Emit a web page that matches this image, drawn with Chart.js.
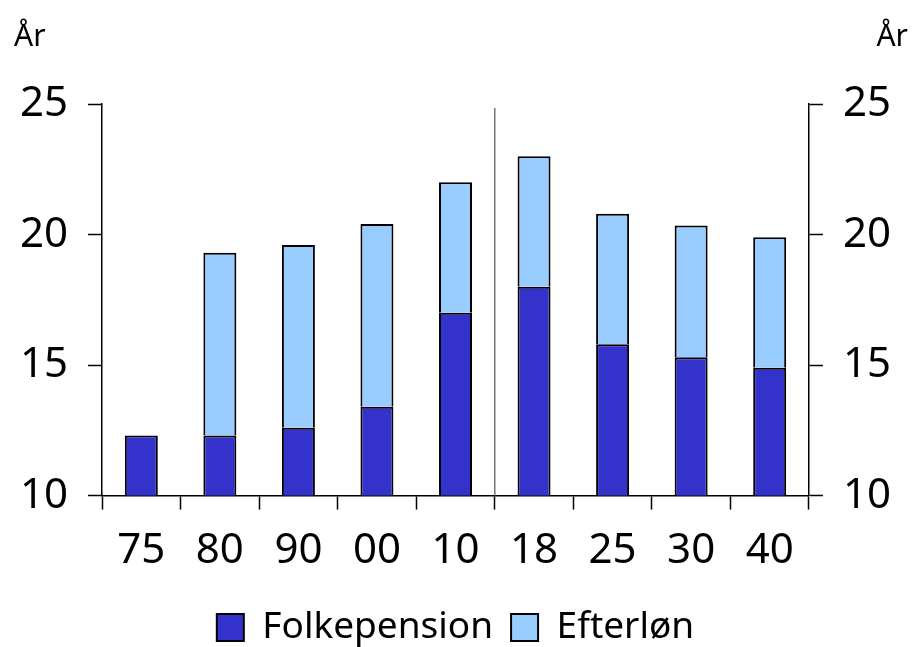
<!DOCTYPE html>
<html>
<head>
<meta charset="utf-8">
<script src="https://cdn.jsdelivr.net/npm/chart.js@4/dist/chart.umd.min.js"></script>
<style>
  html, body { margin: 0; padding: 0; background: #fff; }
  #wrap { width: 916px; height: 647px; }
</style>
</head>
<body>
<div id="wrap"><canvas id="bar_chart"></canvas></div>
<script>
// år-kategorier og værdier (år på pension)
var years = ["75", "80", "90", "00", "10", "18", "25", "30", "40"];
var folkepension = [12.3, 12.3, 12.6, 13.4, 17.0, 18.0, 15.8, 15.3, 14.9];
var efterloen = [0, 7.0, 7.0, 7.0, 5.0, 5.0, 5.0, 5.05, 5.0];
var yTicks = [10, 15, 20, 25];

var fontFam = "'Noto Sans', 'DejaVu Sans', sans-serif";

// lodret skillelinje mellem historik og fremskrivning + "År" tekster
var extras = {
    id: 'extras',
    afterDraw: function(chart) {
        var c = chart.ctx;
        var x = chart.scales.x;
        var area = chart.chartArea;
        var xs = (x.getPixelForValue(4) + x.getPixelForValue(5)) / 2;
        c.save();
        c.strokeStyle = '#777';
        c.lineWidth = 1.5;
        c.beginPath();
        c.moveTo(xs, area.top + 4);
        c.lineTo(xs, area.bottom);
        c.stroke();

        c.fillStyle = '#000';
        c.font = "30px " + fontFam;
        c.textBaseline = 'alphabetic';
        c.textAlign = 'left';
        c.fillText('År', 14, 46);
        c.textAlign = 'right';
        c.fillText('År', 908, 46);
        c.restore();
    }
};

var ctx = document.getElementById('bar_chart').getContext('2d');
var myChart = new Chart(ctx, {
    type: 'bar',
    data: {
        labels: years,
        datasets: [
            {
                label: "Folkepension",
                data: folkepension,
                backgroundColor: "#3333CC",
                borderColor: "#000",
                borderWidth: 2,
                borderSkipped: false,
                barPercentage: 0.42,
                categoryPercentage: 1.0
            },
            {
                label: "Efterløn",
                data: efterloen,
                backgroundColor: "#99CCFF",
                borderColor: "#000",
                borderWidth: 2,
                borderSkipped: 'start',
                barPercentage: 0.42,
                categoryPercentage: 1.0
            }
        ]
    },
    options: {
        responsive: true,
        maintainAspectRatio: false,
        animation: false,
        layout: { padding: { top: 104, left: 0, right: 5, bottom: -9 } },
        plugins: {
            tooltip: { enabled: false },
            legend: {
                position: 'bottom',
                labels: {
                    color: '#000',
                    font: { family: fontFam, size: 37 },
                    boxWidth: 27,
                    boxHeight: 27,
                    padding: 18
                }
            }
        },
        scales: {
            x: {
                stacked: true,
                offset: true,
                afterFit: function(s) { s.height -= 1; },
                grid: {
                    offset: true,
                    drawOnChartArea: false,
                    drawTicks: true,
                    tickLength: 14,
                    tickColor: '#000',
                    tickWidth: 1.5
                },
                border: { display: true, color: '#000', width: 1.5 },
                ticks: {
                    color: '#000',
                    font: { family: fontFam, size: 42 },
                    padding: 16,
                    maxRotation: 0
                }
            },
            y: {
                stacked: true,
                position: 'left',
                min: 10,
                max: 25,
                afterBuildTicks: function(s) { s.ticks = yTicks.map(function(v) { return { value: v }; }); },
                grid: {
                    drawOnChartArea: false,
                    tickLength: 14,
                    tickColor: '#000',
                    tickWidth: 1.5
                },
                border: { display: true, color: '#000', width: 1.5 },
                ticks: {
                    color: '#000',
                    font: { family: fontFam, size: 42 },
                    padding: 20
                }
            },
            y2: {
                position: 'right',
                min: 10,
                max: 25,
                afterBuildTicks: function(s) { s.ticks = yTicks.map(function(v) { return { value: v }; }); },
                grid: {
                    drawOnChartArea: false,
                    tickLength: 14,
                    tickColor: '#000',
                    tickWidth: 1.5
                },
                border: { display: true, color: '#000', width: 1.5 },
                ticks: {
                    color: '#000',
                    font: { family: fontFam, size: 42 },
                    padding: 20
                }
            }
        }
    },
    plugins: [extras]
});
</script>
</body>
</html>
